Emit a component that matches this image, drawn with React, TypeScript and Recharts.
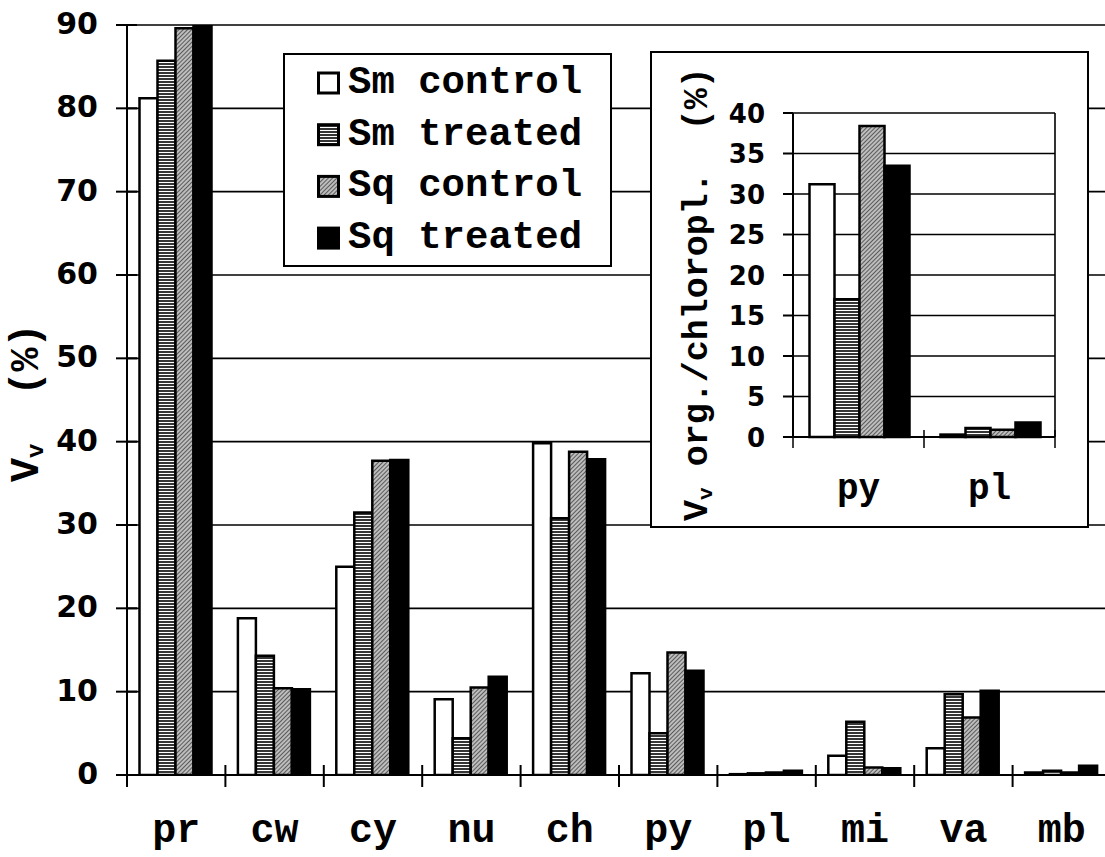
import React from 'react';
import { BarChart, Bar, XAxis, YAxis, CartesianGrid } from 'recharts';

// ---------- data ----------
const categories = ['pr', 'cw', 'cy', 'nu', 'ch', 'py', 'pl', 'mi', 'va', 'mb'];
const smControl = [81.2, 18.8, 25.0, 9.1, 39.8, 12.2, 0.1, 2.3, 3.2, 0.3];
const smTreated = [85.7, 14.3, 31.5, 4.4, 30.8, 5.0, 0.2, 6.4, 9.7, 0.5];
const sqControl = [89.6, 10.4, 37.7, 10.5, 38.8, 14.7, 0.3, 0.9, 6.9, 0.3];
const sqTreated = [90.0, 10.3, 37.8, 11.8, 37.9, 12.5, 0.5, 0.8, 10.1, 1.1];
const mainTicks = [0, 10, 20, 30, 40, 50, 60, 70, 80, 90];

const insetCategories = ['py', 'pl'];
const insetSmControl = [31.2, 0.3];
const insetSmTreated = [17.0, 1.1];
const insetSqControl = [38.4, 0.9];
const insetSqTreated = [33.5, 1.8];
const insetTicks = [0, 5, 10, 15, 20, 25, 30, 35, 40];

const seriesNames = ['Sm control', 'Sm treated', 'Sq control', 'Sq treated'];
const seriesKeys = ['smc', 'smt', 'sqc', 'sqt'];
const seriesFills = ['#ffffff', 'url(#hstripe)', 'url(#dhatch)', '#000000'];

const mainData = categories.map((c, i) => ({
  cat: c, smc: smControl[i], smt: smTreated[i], sqc: sqControl[i], sqt: sqTreated[i],
}));
const insetData = insetCategories.map((c, i) => ({
  cat: c, smc: insetSmControl[i], smt: insetSmTreated[i], sqc: insetSqControl[i], sqt: insetSqTreated[i],
}));

// ---------- layout ----------
const MONO = '"Liberation Mono", "Courier New", monospace';
const SANS = '"DejaVu Sans", sans-serif';

const MAIN_W = 1118;
const MAIN_H = 857;
const MAIN_LEFT = 127;
const MAIN_RIGHT = 7;
const MAIN_BAND = (MAIN_W - MAIN_LEFT - MAIN_RIGHT) / categories.length;

const INSET_W = 435;
const INSET_H = 473;
const INSET_LEFT = 141;
const INSET_RIGHT = 30;
const INSET_RAXIS = 2;
const INSET_BAND = (INSET_W - INSET_LEFT - INSET_RIGHT - INSET_RAXIS) / insetCategories.length;

function MainXTick(props: any) {
  const { x, y, payload } = props;
  const idx = categories.indexOf(payload.value);
  const l = x - MAIN_BAND / 2;
  const r = x + MAIN_BAND / 2;
  return (
    <g>
      <line x1={l} x2={l} y1={y - 10} y2={y + 12} stroke="#000" strokeWidth={2} />
      {idx === categories.length - 1 && (
        <line x1={r} x2={r} y1={y - 10} y2={y + 12} stroke="#000" strokeWidth={2} />
      )}
      <text x={x} y={y + 67} textAnchor="middle" fontFamily={MONO} fontWeight="bold" fontSize={40} fill="#000">
        {payload.value}
      </text>
    </g>
  );
}

function MainYTick(props: any) {
  const { x, y, payload } = props;
  return (
    <g>
      <line x1={x - 11} x2={x + 10} y1={y} y2={y} stroke="#000" strokeWidth={2} />
      <text x={x - 29} y={y + 9} textAnchor="end" fontFamily={SANS} fontWeight="bold" fontSize={30} fill="#000">
        {payload.value}
      </text>
    </g>
  );
}

function InsetXTick(props: any) {
  const { x, y, payload } = props;
  const idx = insetCategories.indexOf(payload.value);
  const l = x - INSET_BAND / 2;
  const r = x + INSET_BAND / 2;
  return (
    <g>
      <line x1={l} x2={l} y1={y - 7} y2={y + 11} stroke="#000" strokeWidth={1.5} />
      {idx === insetCategories.length - 1 && (
        <line x1={r} x2={r} y1={y - 7} y2={y + 11} stroke="#000" strokeWidth={1.5} />
      )}
      <text x={x} y={y + 62} textAnchor="middle" fontFamily={MONO} fontWeight="bold" fontSize={36} fill="#000">
        {payload.value}
      </text>
    </g>
  );
}

function InsetYTick(props: any) {
  const { x, y, payload } = props;
  return (
    <g>
      <line x1={x - 10} x2={x} y1={y} y2={y} stroke="#000" strokeWidth={2} />
      <text x={x - 28} y={y + 9.5} textAnchor="end" fontFamily={SANS} fontWeight="bold" fontSize={26} fill="#000">
        {payload.value}
      </text>
    </g>
  );
}

function MainYLabel() {
  const x = 38;
  const y = 482;
  return (
    <text x={x} y={y} transform={`rotate(-90, ${x}, ${y})`} fontFamily={MONO} fontWeight="bold" fontSize={40}
      fill="#000" style={{ whiteSpace: 'pre' }}>
      <tspan>V</tspan>
      <tspan fontSize={24} dy={5}>v</tspan>
      <tspan dy={-5}>{'  (%)'}</tspan>
    </text>
  );
}

function InsetYLabel() {
  const x = 55;
  const y = 468;
  return (
    <text x={x} y={y} transform={`rotate(-90, ${x}, ${y})`} fontFamily={MONO} fontWeight="bold" fontSize={35}
      fill="#000" style={{ whiteSpace: 'pre' }}>
      <tspan>V</tspan>
      <tspan fontSize={21} dy={5}>v</tspan>
      <tspan dy={-5}>{' org./chloropl.  (%)'}</tspan>
    </text>
  );
}

function Legend() {
  return (
    <svg width={329} height={214} style={{ position: 'absolute', left: 283, top: 53 }}>
      <rect x={1} y={1} width={327} height={212} fill="#fff" stroke="#000" strokeWidth={2} />
      {seriesNames.map((name, i) => {
        const cy = 30 + i * 51.7;
        return (
          <g key={name}>
            <rect x={35.5} y={cy - 10} width={20} height={20} fill={seriesFills[i]} stroke="#000" strokeWidth={3} />
            <text x={65} y={cy + 10} fontFamily={MONO} fontWeight="bold" fontSize={39} fill="#000"
              style={{ whiteSpace: 'pre' }}>
              {name}
            </text>
          </g>
        );
      })}
    </svg>
  );
}

export default function App() {
  return (
    <div style={{ position: 'fixed', left: 0, top: 0, width: 1105, height: 857, overflow: 'hidden', background: '#fff' }}>
      <svg width={0} height={0} style={{ position: 'absolute' }}>
        <defs>
          <pattern id="hstripe" width={4} height={3} patternUnits="userSpaceOnUse">
            <rect x={0} y={0} width={4} height={3} fill="#353535" />
            <rect x={0} y={2} width={4} height={1} fill="#ffffff" />
          </pattern>
          <pattern id="dhatch" width={3} height={3} patternUnits="userSpaceOnUse" patternTransform="rotate(45)">
            <rect x={0} y={0} width={3} height={3} fill="#bdbdbd" />
            <rect x={0} y={0} width={1} height={3} fill="#5a5a5a" />
          </pattern>
        </defs>
      </svg>

      <div style={{ position: 'absolute', left: 0, top: 0 }}>
        <BarChart width={MAIN_W} height={MAIN_H} data={mainData}
          margin={{ top: 25, right: MAIN_RIGHT, bottom: 0, left: 0 }}
          barCategoryGap={12.5} barGap={0}>
          <CartesianGrid vertical={false} stroke="#000" strokeWidth={1.6} />
          <XAxis dataKey="cat" height={82} interval={0} tickLine={false} tickSize={0} tickMargin={0}
            axisLine={{ stroke: '#000', strokeWidth: 2 }} tick={(p: any) => <MainXTick {...p} />} />
          <YAxis width={MAIN_LEFT} domain={[0, 90]} ticks={mainTicks} interval={0} tickLine={false}
            tickSize={0} tickMargin={0} allowDataOverflow axisLine={{ stroke: '#000', strokeWidth: 2 }}
            tick={(p: any) => <MainYTick {...p} />} label={<MainYLabel />} />
          {seriesKeys.map((k, i) => (
            <Bar key={k} dataKey={k} name={seriesNames[i]} fill={seriesFills[i]} stroke="#000"
              strokeWidth={2.5} isAnimationActive={false} />
          ))}
        </BarChart>
      </div>

      <Legend />

      <div style={{
        position: 'absolute', left: 650, top: 51, width: 439, height: 477, border: '2px solid #000',
        boxSizing: 'border-box', background: '#fff',
      }}>
        <BarChart width={INSET_W} height={INSET_H} data={insetData}
          margin={{ top: 60, right: INSET_RIGHT, bottom: 0, left: 0 }}
          barCategoryGap={16.5} barGap={0}>
          <CartesianGrid vertical={false} stroke="#000" strokeWidth={1.6} yAxisId="l" />
          <XAxis dataKey="cat" height={89} interval={0} tickLine={false} tickSize={0} tickMargin={0}
            axisLine={{ stroke: '#000', strokeWidth: 2 }} tick={(p: any) => <InsetXTick {...p} />} />
          <YAxis yAxisId="l" width={INSET_LEFT} domain={[0, 40]} ticks={insetTicks} interval={0}
            tickLine={false} tickSize={0} tickMargin={0} axisLine={{ stroke: '#000', strokeWidth: 2 }}
            tick={(p: any) => <InsetYTick {...p} />} label={<InsetYLabel />} />
          <YAxis yAxisId="r" orientation="right" width={INSET_RAXIS} domain={[0, 40]} ticks={insetTicks}
            tick={false} tickLine={false} axisLine={{ stroke: '#000', strokeWidth: 1.6 }} />
          {seriesKeys.map((k, i) => (
            <Bar key={k} yAxisId="l" dataKey={k} name={seriesNames[i]} fill={seriesFills[i]} stroke="#000"
              strokeWidth={2.5} isAnimationActive={false} />
          ))}
        </BarChart>
      </div>
    </div>
  );
}
